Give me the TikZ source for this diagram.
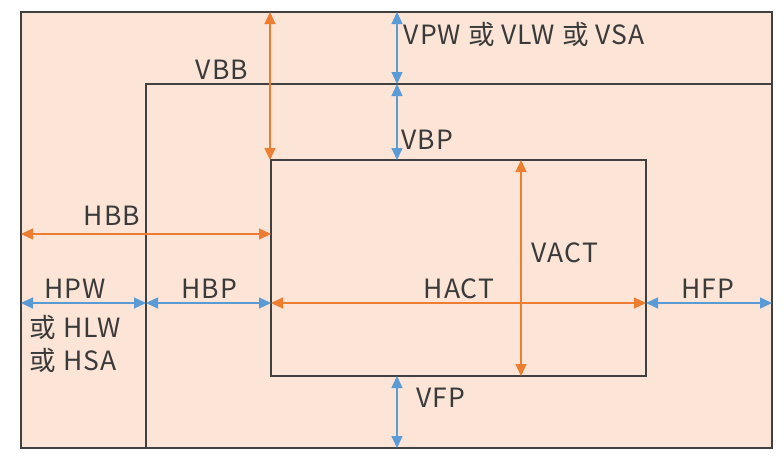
\documentclass[tikz,border=0pt]{standalone}
\usepackage{fontspec}
\setmainfont[LetterSpace=4]{Noto Sans CJK SC}
\usetikzlibrary{arrows.meta}
\definecolor{peach}{HTML}{FCE4D6}
\definecolor{frameline}{HTML}{404040}
\definecolor{actorange}{HTML}{ED7D31}
\definecolor{syncblue}{HTML}{5B9BD5}
\begin{document}
\begin{tikzpicture}[x=1pt, y=-1pt, line width=1.6pt,
    orange arrow/.style={{Triangle[length=12pt,width=11pt]}-{Triangle[length=12pt,width=11pt]}, actorange, line width=1.3pt},
    blue arrow/.style={{Triangle[length=12pt,width=11pt]}-{Triangle[length=12pt,width=11pt]}, syncblue, line width=1.3pt},
    lbl/.style={text=frameline!90!black, font=\fontsize{26.5}{28}\selectfont, inner sep=0pt}]
    \useasboundingbox (0,0) rectangle (784,461);

    % frames
    \coordinate (outerTL) at (21,12);
    \coordinate (outerBR) at (772,448);
    \coordinate (backTL) at (146,84);
    \coordinate (actTL) at (271,160);
    \coordinate (actBR) at (646,376);
    \fill[peach] (outerTL) rectangle (outerBR);
    \draw[frameline] (outerTL) rectangle (outerBR);
    \draw[frameline] (backTL |- outerBR) -- (backTL) -- (backTL -| outerBR);
    \draw[frameline] (actTL) rectangle (actBR);

    % vertical timing
    \coordinate (vbbTop) at (270,12);
    \coordinate (vbbBot) at (270,160);
    \coordinate (vpwTop) at (397,12);
    \coordinate (vpwBot) at (397,84);
    \coordinate (vbpBot) at (397,160);
    \coordinate (vfpTop) at (397,376);
    \coordinate (vfpBot) at (397,448);
    \coordinate (vactTop) at (521,160);
    \coordinate (vactBot) at (521,376);
    \draw[orange arrow] (vbbTop) -- (vbbBot);
    \draw[blue arrow] (vpwTop) -- (vpwBot);
    \draw[blue arrow] (vpwBot) -- (vbpBot);
    \draw[blue arrow] (vfpTop) -- (vfpBot);
    \draw[orange arrow] (vactTop) -- (vactBot);

    % horizontal timing
    \coordinate (hbbL) at (21,234);
    \coordinate (hbbR) at (271,234);
    \coordinate (hpwL) at (21,303);
    \coordinate (hpwR) at (146,303);
    \coordinate (hbpR) at (271,303);
    \coordinate (hactR) at (646,303);
    \coordinate (hfpR) at (772,303);
    \draw[orange arrow] (hbbL) -- (hbbR);
    \draw[blue arrow] (hpwL) -- (hpwR);
    \draw[blue arrow] (hpwR) -- (hbpR);
    \draw[orange arrow] (hbpR) -- (hactR);
    \draw[blue arrow] (hactR) -- (hfpR);

    % labels
    \node[lbl, anchor=west] (vpw) at (403,34) {VPW 或 VLW 或 VSA};
    \node[lbl] (vbb) at (222,70) {VBB};
    \node[lbl] (vbp) at (427,140) {VBP};
    \node[lbl] (hbb) at (112,216) {HBB};
    \node[lbl] (vact) at (565,253) {VACT};
    \node[lbl] (hpw) at (75,289) {HPW};
    \node[lbl] (hbp) at (209,289) {HBP};
    \node[lbl] (hact) at (459,289) {HACT};
    \node[lbl] (hfp) at (708,289) {HFP};
    \node[lbl, anchor=west] (hlw) at (29,327) {或 HLW};
    \node[lbl, anchor=west] (hsa) at (29,360) {或 HSA};
    \node[lbl] (vfp) at (441,398) {VFP};
\end{tikzpicture}
\end{document}
